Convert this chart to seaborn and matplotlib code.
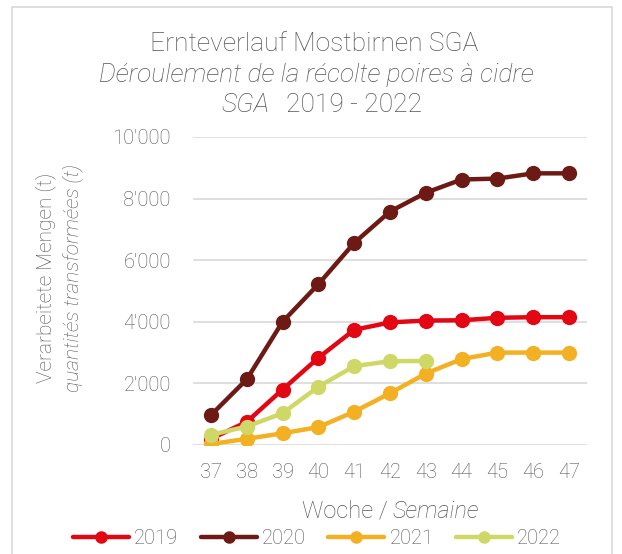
import pandas as pd
import matplotlib.pyplot as plt
import matplotlib.ticker as mticker
import seaborn as sns
from matplotlib.patches import Rectangle

# Data (tonnes processed per week)
weeks = [37, 38, 39, 40, 41, 42, 43, 44, 45, 46, 47]
y2019 = [200, 750, 1800, 2830, 3740, 3980, 4040, 4050, 4130, 4150, 4150]
y2020 = [970, 2130, 4000, 5220, 6560, 7580, 8190, 8620, 8650, 8820, 8820]
y2021 = [30, 200, 380, 580, 1080, 1680, 2320, 2790, 3000, 3000, 3000]
y2022 = [330, 600, 1030, 1890, 2560, 2720, 2730]
years = ['2019', '2020', '2021', '2022']
colors = ['#E30613', '#6E1A14', '#F2B022', '#CFD867']

rows = []
for yr, vals in zip(years, [y2019, y2020, y2021, y2022]):
    for w, v in zip(weeks, vals):
        rows.append({'week': w, 'tonnes': v, 'year': yr})
df = pd.DataFrame(rows)

sns.set_theme(style='white')
plt.rcParams['font.family'] = ['Roboto', 'DejaVu Sans']
plt.rcParams['font.weight'] = 'light'
txt = '#555555'

fig = plt.figure(figsize=(6.22, 5.54), dpi=100)
fig.patches.append(Rectangle((12 / 622, -0.01), 600 / 622, 1 - 7 / 554 + 0.01,
                             transform=fig.transFigure, fill=False,
                             edgecolor='#D9D9D9', linewidth=1.2))
ax = fig.add_axes([193 / 622, 109 / 554, 394 / 622, 308 / 554])

sns.lineplot(data=df, x='week', y='tonnes', hue='year', palette=colors,
             marker='o', markersize=11, markeredgewidth=0, linewidth=3.2,
             ax=ax, legend=False)

ax.set_xlim(36.5, 47.5)
ax.set_ylim(0, 10000)
ax.set_xticks(weeks)
ax.set_yticks(range(0, 10001, 2000))
ax.yaxis.set_major_formatter(mticker.FuncFormatter(lambda v, p: f"{int(v):,}".replace(',', "'")))
ax.grid(axis='y', color='#D9D9D9', linewidth=1.2)
ax.set_axisbelow(True)
for s in ax.spines.values():
    s.set_visible(False)
ax.tick_params(axis='both', colors=txt, labelsize=14.5, length=0)
ax.tick_params(axis='y', pad=16)
ax.tick_params(axis='x', pad=13)
ax.set_xlabel('')
ax.set_ylabel('')

# titles
fig.text(314 / 622, 1 - 44 / 554, 'Ernteverlauf Mostbirnen SGA', ha='center', va='center',
         fontsize=19, color=txt)
fig.text(316 / 622, 1 - 75 / 554, 'Déroulement de la récolte poires à cidre', ha='center',
         va='center', fontsize=19, color=txt, style='italic')
fig.text(270 / 622, 1 - 105 / 554, 'SGA', ha='right', va='center', fontsize=19,
         color=txt, style='italic')
fig.text(286 / 622, 1 - 105 / 554, '2019 - 2022', ha='left', va='center', fontsize=19,
         color=txt)

# y-axis label, two lines
fig.text(46 / 622, 1 - 278 / 554, 'Verarbeitete Mengen (t)', rotation=90, ha='center',
         va='center', fontsize=15, color=txt)
fig.text(73 / 622, 1 - 278 / 554, 'quantités transformées (t)', rotation=90, ha='center',
         va='center', fontsize=15, color=txt, style='italic')

# x-axis label
fig.text(388 / 622, 1 - 511 / 554, 'Woche /', ha='right', va='center', fontsize=17, color=txt)
fig.text(393 / 622, 1 - 511 / 554, 'Semaine', ha='left', va='center', fontsize=17,
         color=txt, style='italic')

handles = [plt.Line2D([], [], color=c, marker='o', markersize=9, linewidth=3.2,
                      markeredgewidth=0) for c in colors]
leg = fig.legend(handles, years, loc='center', bbox_to_anchor=(317 / 622, 1 - 539 / 554),
                 ncol=4, frameon=False, fontsize=14.5, handlelength=2.8, columnspacing=1.1,
                 handletextpad=0.25, borderpad=0)
for t in leg.get_texts():
    t.set_color(txt)

fig.savefig('out.png', dpi=100)
